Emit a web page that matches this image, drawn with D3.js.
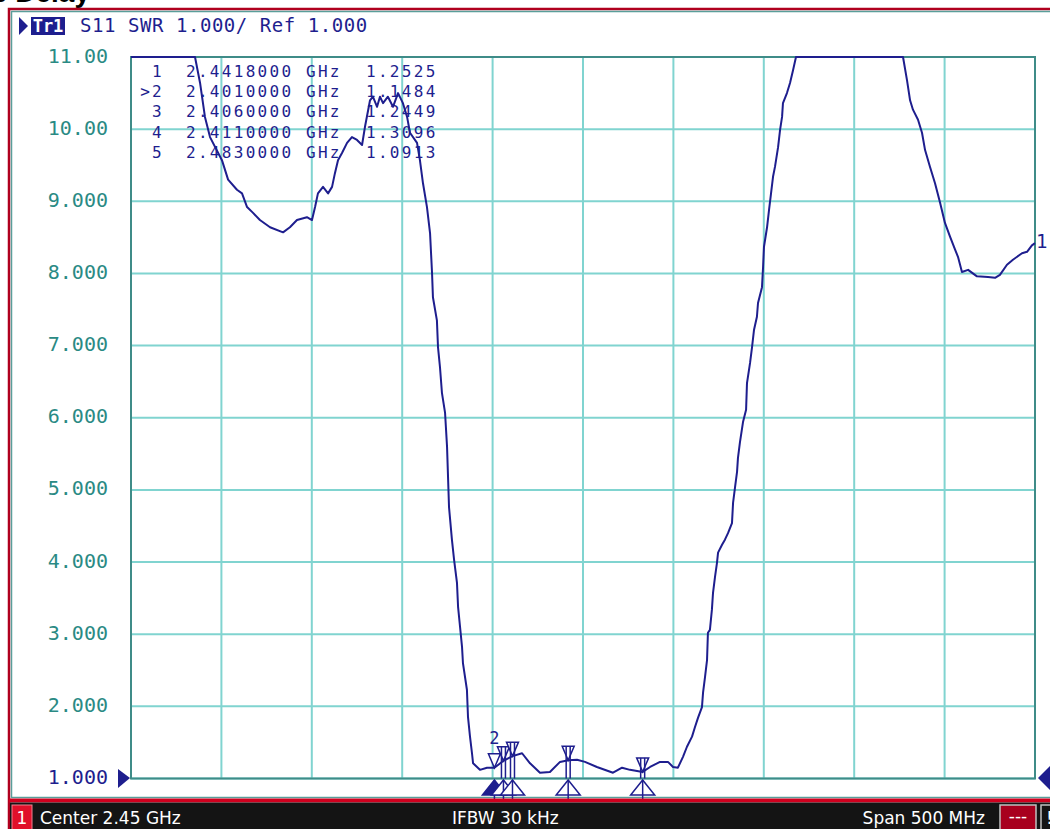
<!DOCTYPE html>
<html>
<head>
<meta charset="utf-8">
<script src="https://cdn.jsdelivr.net/npm/d3@7/dist/d3.min.js"></script>
<style>
html,body{margin:0;padding:0;background:#fff;overflow:hidden}
svg{display:block}
</style>
</head>
<body>
<div id="chart"></div>
<script>
// trace S11 SWR, frequency in MHz (values over 11 are shown clipped at 11)
var freqMHz = [2200,2235.4,2238.2,2240.9,2243.7,2250.3,2253.7,2258.6,2261.4,2264.2,2267.5,2271.3,2276.9,2284.1,2287.9,2291.8,2297.3,2300.1,2301.8,2303.4,2306.2,2309.0,2311.2,2312.8,2314.5,2316.7,2319.5,2322.2,2325.0,2327.8,2329.4,2332.2,2333.8,2336.1,2337.7,2339.4,2342.1,2344.9,2347.7,2350.4,2352.7,2354.3,2358.2,2359.8,2361.5,2363.7,2365.4,2366.5,2367.0,2369.2,2369.8,2370.9,2372.0,2373.7,2374.8,2375.9,2377.5,2378.7,2380.3,2380.9,2382.0,2383.1,2383.6,2385.8,2386.4,2387.5,2388.6,2389.2,2393.0,2396.9,2401.0,2406.0,2411.0,2416.3,2420.7,2426.2,2431.7,2437.3,2441.8,2446.7,2451.1,2457.7,2466.6,2471.6,2476.0,2483.0,2487.1,2492.6,2497.0,2499.8,2502.5,2505.3,2507.5,2510.3,2511.9,2513.6,2515.8,2516.4,2517.5,2518.6,2519.1,2520.2,2521.3,2521.9,2523.0,2524.1,2524.7,2526.9,2528.5,2530.2,2532.4,2533.0,2534.1,2535.2,2535.7,2536.8,2538.5,2540.2,2540.7,2542.4,2543.5,2544.6,2546.2,2546.8,2549.0,2549.6,2550.1,2551.8,2552.9,2554.0,2555.1,2556.2,2557.9,2559.0,2560.1,2560.6,2562.8,2564.5,2566.2,2567.8,2627.0,2629.2,2630.9,2632.5,2635.3,2637.5,2639.2,2641.9,2644.7,2647.5,2650.2,2653.0,2655.8,2657.4,2659.6,2663.0,2667.9,2674.0,2677.9,2680.6,2684.5,2687.8,2692.8,2695.6,2698.3,2700];
var swr = [11,11,10.64,10.17,9.89,9.57,9.30,9.16,9.11,8.92,8.84,8.74,8.64,8.57,8.64,8.74,8.78,8.74,8.92,9.11,9.20,9.11,9.20,9.39,9.57,9.67,9.81,9.89,9.85,9.78,10.03,10.40,10.45,10.31,10.45,10.36,10.45,10.31,10.50,10.36,10.17,9.95,9.81,9.57,9.25,8.92,8.56,8.01,7.67,7.35,6.98,6.70,6.34,6.07,5.60,4.76,4.31,4.03,3.71,3.38,3.10,2.82,2.60,2.23,1.85,1.58,1.35,1.21,1.12,1.15,1.148,1.245,1.31,1.35,1.21,1.08,1.09,1.23,1.2525,1.26,1.23,1.16,1.08,1.15,1.12,1.091,1.16,1.23,1.23,1.16,1.15,1.30,1.44,1.58,1.71,1.84,1.99,2.19,2.41,2.64,3.02,3.06,3.34,3.57,3.79,3.99,4.13,4.24,4.31,4.40,4.54,4.82,5.04,5.25,5.44,5.66,5.94,6.11,6.48,6.76,6.98,7.22,7.40,7.59,7.81,8.09,8.37,8.64,8.88,9.11,9.34,9.48,9.75,9.99,10.17,10.36,10.50,10.64,10.82,11,11,10.68,10.40,10.27,10.13,9.95,9.71,9.48,9.25,8.98,8.70,8.51,8.33,8.23,8.02,8.05,7.96,7.95,7.94,7.98,8.12,8.19,8.28,8.30,8.39,8.42];

var markerIds = ["1","2","3","4","5"];
var markerFreqGHz = [2.4418, 2.4010, 2.4060, 2.4110, 2.4830];
var markerSwr = [1.2525, 1.1484, 1.2449, 1.3096, 1.0913];
var activeMarker = "2";

var yTicks = [1,2,3,4,5,6,7,8,9,10,11];
var xTicks = [2200,2250,2300,2350,2400,2450,2500,2550,2600,2650,2700];

var W = 1050, H = 829;
var plot = {left:131, right:1035, top:57, bottom:778.5};
var navy = "#1e1e8e", teal = "#2a8a84", gridCol = "#80d4d0", mono = "'DejaVu Sans Mono', monospace";

var svg = d3.select("#chart").append("svg").attr("width", W).attr("height", H);

var x = d3.scaleLinear().domain([2200, 2700]).range([plot.left, plot.right]);
var y = d3.scaleLinear().domain([1, 11]).range([plot.bottom, plot.top]);

// cut-off title above the instrument window
svg.append("text").attr("x", 90).attr("y", 2).attr("text-anchor", "end")
    .attr("font-family", "'Liberation Sans', Arial, sans-serif").attr("font-weight", "bold")
    .attr("font-size", 28).attr("fill", "#000").text("Group Delay");

// window frame
svg.append("rect").attr("x", 9).attr("y", 9).attr("width", 1060).attr("height", 830)
    .attr("fill", "#fff").attr("stroke", "#b0001e").attr("stroke-width", 2.5);
svg.append("rect").attr("x", 11.5).attr("y", 11.5).attr("width", 1060).attr("height", 786)
    .attr("fill", "none").attr("stroke", "#5a9e9a").attr("stroke-width", 1.5);

// header
svg.append("path").attr("d", "M19,17 L28,26 L19,35 Z").attr("fill", navy);
svg.append("rect").attr("x", 31).attr("y", 17).attr("width", 34).attr("height", 18).attr("fill", navy);
svg.append("text").attr("x", 48).attr("y", 32).attr("text-anchor", "middle").attr("font-family", mono)
    .attr("font-weight", "bold").attr("font-size", 17).attr("fill", "#fff").text("Tr1");
svg.append("text").attr("x", 80).attr("y", 32).attr("font-family", mono).attr("font-size", 19)
    .attr("letter-spacing", 0.55).attr("fill", navy).text("S11 SWR 1.000/ Ref 1.000");

// grid
var grid = svg.append("g");
grid.selectAll("line.v").data(xTicks).enter().append("line").attr("class", "v")
    .attr("x1", function(d){return x(d);}).attr("x2", function(d){return x(d);})
    .attr("y1", plot.top).attr("y2", plot.bottom)
    .attr("stroke", gridCol).attr("stroke-width", 2);
grid.selectAll("line.h").data(yTicks).enter().append("line").attr("class", "h")
    .attr("x1", plot.left).attr("x2", plot.right)
    .attr("y1", function(d){return y(d);}).attr("y2", function(d){return y(d);})
    .attr("stroke", gridCol).attr("stroke-width", 2);
svg.append("rect").attr("x", plot.left).attr("y", plot.top)
    .attr("width", plot.right - plot.left).attr("height", plot.bottom - plot.top)
    .attr("fill", "none").attr("stroke", "#3f8c88").attr("stroke-width", 2);

// y axis labels
var fmt = d3.format(".4r");
var yAxis = svg.append("g").attr("transform", "translate(108,0)")
    .call(d3.axisLeft(y).tickValues(yTicks).tickSize(0).tickPadding(0).tickFormat(fmt));
yAxis.select(".domain").remove();
yAxis.selectAll("text").attr("font-family", mono).attr("font-size", 20)
    .attr("fill", function(d){return d === 1 ? navy : teal;}).attr("dy", "0.25em");

// reference level arrows
svg.append("path").attr("d", "M118,769 L130,778 L118,788 Z").attr("fill", navy);
svg.append("path").attr("d", "M1050,766 L1038,778 L1050,790 Z").attr("fill", navy);

// marker table
var table = svg.append("g").attr("font-family", mono).attr("font-size", 16)
    .attr("letter-spacing", 2.3).attr("fill", navy);
markerIds.forEach(function(id, i) {
    var ty = 77 + i * 20.2;
    table.append("text").attr("x", 164).attr("y", ty).attr("text-anchor", "end")
        .text((id === activeMarker ? ">" : "") + id);
    table.append("text").attr("x", 186).attr("y", ty).text(markerFreqGHz[i].toFixed(7));
    table.append("text").attr("x", 306).attr("y", ty).text("GHz");
    table.append("text").attr("x", 366).attr("y", ty).text(markerSwr[i].toFixed(4));
});

// trace
var pts = freqMHz.map(function(f, i){return [f, Math.min(swr[i], 11)];});
var line = d3.line().x(function(d){return x(d[0]);}).y(function(d){return y(d[1]);});
svg.append("path").datum(pts).attr("d", line).attr("fill", "none")
    .attr("stroke", navy).attr("stroke-width", 2).attr("stroke-linejoin", "round");
svg.append("text").attr("x", 1036).attr("y", 248).attr("font-family", mono).attr("font-size", 19)
    .attr("fill", navy).text("1");

// markers on trace
var mk = svg.append("g").attr("stroke", navy).attr("fill", "none").attr("stroke-width", 1.5);
markerIds.forEach(function(id, i) {
    var mx = x(markerFreqGHz[i] * 1000), my = y(markerSwr[i]);
    var active = id === activeMarker;
    mk.append("path").attr("d", "M" + (mx - 6) + "," + (my - 14) + " L" + (mx + 6) + "," + (my - 14) + " L" + mx + "," + my + " Z")
        .attr("fill", "#fff");
    if (!active) {
        mk.append("line").attr("x1", mx - 2).attr("x2", mx - 2).attr("y1", my - 14).attr("y2", plot.bottom);
        mk.append("line").attr("x1", mx + 2).attr("x2", mx + 2).attr("y1", my - 14).attr("y2", plot.bottom);
    } else {
        svg.append("text").attr("x", mx).attr("y", my - 24).attr("text-anchor", "middle")
            .attr("font-family", mono).attr("font-size", 17).attr("fill", navy).text(id);
    }
    mk.append("path").attr("d", "M" + (mx - 12) + ",795 L" + (mx + 12) + ",795 L" + mx + ",780 Z")
        .attr("fill", active ? navy : "#fff");
    mk.append("line").attr("x1", mx).attr("x2", mx).attr("y1", 780).attr("y2", 799);
});

// status bar
svg.append("rect").attr("x", 9).attr("y", 798.5).attr("width", 1050).attr("height", 4).attr("fill", "#d0001e");
svg.append("rect").attr("x", 10).attr("y", 802.5).attr("width", 1050).attr("height", 27).attr("fill", "#141414");
svg.append("rect").attr("x", 12).attr("y", 805).attr("width", 20).attr("height", 26)
    .attr("fill", "#e0102a").attr("stroke", "#f08090").attr("stroke-width", 1);
svg.append("rect").attr("x", 1000).attr("y", 805).attr("width", 36).attr("height", 26)
    .attr("fill", "#a8001e").attr("stroke", "#c0c0c0").attr("stroke-width", 1.5);
svg.append("rect").attr("x", 1041).attr("y", 805).attr("width", 14).attr("height", 26)
    .attr("fill", "#141414").attr("stroke", "#c0c0c0").attr("stroke-width", 1.5);
var sb = svg.append("g").attr("font-family", "'DejaVu Sans', sans-serif").attr("font-size", 17).attr("fill", "#fff");
sb.append("text").attr("x", 22).attr("y", 824).attr("text-anchor", "middle").text("1");
sb.append("text").attr("x", 40).attr("y", 824).text("Center 2.45 GHz");
sb.append("text").attr("x", 452).attr("y", 824).text("IFBW 30 kHz");
sb.append("text").attr("x", 985).attr("y", 824).attr("text-anchor", "end").text("Span 500 MHz");
sb.append("text").attr("x", 1018).attr("y", 822).attr("text-anchor", "middle").text("---");
sb.append("text").attr("x", 1046).attr("y", 824).text("!");
</script>
</body>
</html>
